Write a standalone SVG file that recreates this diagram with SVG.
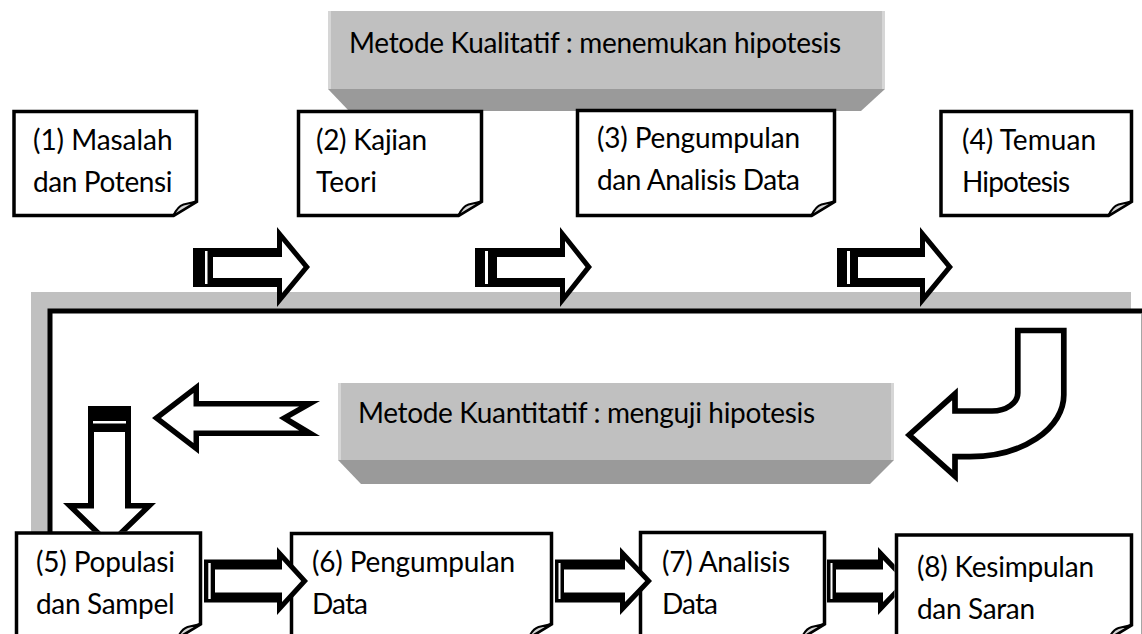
<svg xmlns="http://www.w3.org/2000/svg" width="1142" height="634" viewBox="0 0 1142 634">
<defs>
<style>
.t{font-family:Lato,"Liberation Sans",sans-serif;font-size:28px;fill:#000}
.box{fill:#fff;stroke:#000;stroke-width:3.5;stroke-linejoin:miter}
.curl{fill:#d4d4d4;stroke:#000;stroke-width:2;stroke-linejoin:round}
.face{fill:#c0c0c0}
.bevel{fill:#9a9a9a}
.hl{fill:#d6d6d6}
.blk{fill:#000}
.wht{fill:#fff}
</style>
<clipPath id="clipDown"><rect x="0" y="0" width="1142" height="531.5"/></clipPath>
<clipPath id="clip78"><rect x="0" y="0" width="894.5" height="634"/></clipPath>
</defs>
<rect width="1142" height="634" fill="#fff"/>

<g id="frame">
<rect x="31" y="292" width="1100" height="360" fill="#c0c0c0"/>
<rect x="50" y="311" width="1100" height="340" fill="#fff" stroke="#000" stroke-width="5"/>
<line x1="1141.5" y1="314" x2="1141.5" y2="634" stroke="#a6a6a6" stroke-width="1"/>
</g>

<g id="banner-top">
<rect class="face" x="328" y="11" width="557" height="78"/>
<rect class="hl" x="328" y="11" width="3" height="78"/>
<rect class="hl" x="882" y="11" width="3" height="78"/>
<polygon class="bevel" points="328,89 885,89 861,111 349,111"/>
<text class="t" x="349" y="53" textLength="492">Metode Kualitatif : menemukan hipotesis</text>
</g>

<g id="box1">
<path class="box" d="M14,111.5 H196.5 V201.5 L173.5,215.5 H14 Z"/>
<path class="curl" d="M173.5,215.5 Q177.5,206.5 183.5,204.5 L196.5,201.5 Z"/>
<text class="t" x="33" y="150" textLength="139.5">(1) Masalah</text>
<text class="t" x="33" y="192" textLength="139.5">dan Potensi</text>
</g>

<g id="box2">
<path class="box" d="M298.5,111.5 H481.5 V201.5 L458.5,215.5 H298.5 Z"/>
<path class="curl" d="M458.5,215.5 Q462.5,206.5 468.5,204.5 L481.5,201.5 Z"/>
<text class="t" x="316" y="150" textLength="111">(2) Kajian</text>
<text class="t" x="316" y="192" textLength="61">Teori</text>
</g>

<g id="box3">
<path class="box" d="M577.5,110.5 H834.5 V201.5 L811.5,215.5 H577.5 Z"/>
<path class="curl" d="M811.5,215.5 Q815.5,206.5 821.5,204.5 L834.5,201.5 Z"/>
<text class="t" x="597" y="148" textLength="203">(3) Pengumpulan</text>
<text class="t" x="597" y="190" textLength="203">dan Analisis Data</text>
</g>

<g id="box4">
<path class="box" d="M941,111.5 H1131.5 V201.5 L1108.5,215.5 H941 Z"/>
<path class="curl" d="M1108.5,215.5 Q1112.5,206.5 1118.5,204.5 L1131.5,201.5 Z"/>
<text class="t" x="962" y="150" textLength="134">(4) Temuan</text>
<text class="t" x="962" y="192" textLength="108">Hipotesis</text>
</g>

<g id="banner-bottom">
<rect class="face" x="338" y="383" width="556" height="77"/>
<rect class="hl" x="338" y="383" width="3" height="77"/>
<rect class="hl" x="891" y="383" width="3" height="77"/>
<polygon class="bevel" points="338,460 894,460 870,484 361,484"/>
<text class="t" x="358" y="423" textLength="457">Metode Kuantitatif : menguji hipotesis</text>
</g>

<g id="box5">
<path class="box" d="M16.5,533 H200.5 V624 L177.5,638 H16.5 Z"/>
<path class="curl" d="M177.5,638 Q181.5,629 187.5,627 L200.5,624 Z"/>
<text class="t" x="36" y="572" textLength="139">(5) Populasi</text>
<text class="t" x="36" y="614" textLength="138.5">dan Sampel</text>
</g>

<g id="box6">
<path class="box" d="M291.5,533.5 H551.5 V624 L528.5,638 H291.5 Z"/>
<path class="curl" d="M528.5,638 Q532.5,629 538.5,627 L551.5,624 Z"/>
<text class="t" x="312" y="572" textLength="203">(6) Pengumpulan</text>
<text class="t" x="312" y="614" textLength="56">Data</text>
</g>

<g id="box7">
<path class="box" d="M640.5,532.5 H824.5 V624 L801.5,638 H640.5 Z"/>
<path class="curl" d="M801.5,638 Q805.5,629 811.5,627 L824.5,624 Z"/>
<text class="t" x="662" y="572" textLength="128">(7) Analisis</text>
<text class="t" x="662" y="614" textLength="56">Data</text>
</g>

<g id="box8">
<path class="box" d="M896.5,535 H1131.5 V625 L1108.5,639 H896.5 Z"/>
<path class="curl" d="M1108.5,639 Q1112.5,630 1118.5,628 L1131.5,625 Z"/>
<text class="t" x="917" y="577" textLength="177">(8) Kesimpulan</text>
<text class="t" x="917" y="619" textLength="118">dan Saran</text>
</g>

<g id="connectors">
<g id="arrow-1-2">
<rect class="blk" x="193" y="248" width="20" height="39"/>
<rect class="wht" x="205" y="251" width="2.5" height="33"/>
<polygon class="blk" points="213,248 277,248 277,227 310,267 277,307 277,287 213,287"/>
<polygon class="wht" points="213,257 282,257 282,241 303.5,267 282,293 282,278 213,278"/>
</g>
<g id="arrow-2-3">
<rect class="blk" x="475" y="248" width="22" height="39"/>
<rect class="wht" x="485" y="251" width="3" height="33"/>
<polygon class="blk" points="497,248 560,248 560,227 592,267 560,307 560,287 497,287"/>
<polygon class="wht" points="497,257 565,257 565,241 585.5,267 565,293 565,278 497,278"/>
</g>
<g id="arrow-3-4">
<rect class="blk" x="837" y="248" width="21" height="39"/>
<rect class="wht" x="847" y="251" width="3" height="33"/>
<polygon class="blk" points="858,248 920,248 920,227 953,267 920,307 920,287 858,287"/>
<polygon class="wht" points="858,257 925,257 925,241 946.5,267 925,293 925,278 858,278"/>
</g>
<g id="arrow-4-q">
<path d="M1017.8,330.5 H1063.8 V395 A93.8,61.7 0 0 1 970,456.7 H955 V476.2 L909.2,435 L955,393.8 V411 H992 A25.8,18 0 0 0 1017.8,393 Z" fill="#fff" stroke="#000" stroke-width="5.7" stroke-linejoin="miter"/>
</g>
<g id="arrow-q-left">
<polygon class="blk" points="152,418 199,382 199,401 320,401 290,418 320,436 199,436 199,454"/>
<polygon class="wht" points="161,418 193.5,393.1 193.5,406.5 299.1,406.5 278.8,418 299.1,430.5 193.5,430.5 193.5,442.9"/>
</g>
<g id="arrow-down-5" clip-path="url(#clipDown)">
<rect class="blk" x="88" y="406" width="43" height="26"/>
<rect class="wht" x="93" y="421" width="33" height="2.5"/>
<polygon class="blk" points="88,432 88,503 63,503 109.5,548 156,503 131,503 131,432"/>
<polygon class="wht" points="94,432 94,508.5 76.6,508.5 109.5,540.3 142.4,508.5 125,508.5 125,432"/>
</g>
<g id="arrow-5-6">
<rect class="blk" x="204" y="559.5" width="11" height="43"/>
<rect class="wht" x="208.3" y="563" width="2.4" height="36"/>
<polygon class="blk" points="215,559.5 277,559.5 277,547 308,581 277,615 277,602.5 215,602.5"/>
<polygon class="wht" points="215,569.5 282,569.5 282,559.9 301.2,581 282,602.1 282,592.5 215,592.5"/>
</g>
<g id="arrow-6-7">
<rect class="blk" x="555" y="559.5" width="9" height="43"/>
<rect class="wht" x="558.5" y="563" width="2" height="36"/>
<polygon class="blk" points="564,559.5 620,559.5 620,547 652,581 620,615 620,602.5 564,602.5"/>
<polygon class="wht" points="564,569.5 625,569.5 625,559.9 645.2,581 625,602.1 625,592.5 564,592.5"/>
</g>
<g id="arrow-7-8" clip-path="url(#clip78)">
<rect class="blk" x="827" y="559.5" width="9" height="43"/>
<rect class="wht" x="830.5" y="563" width="2" height="36"/>
<polygon class="blk" points="836,559.5 878,559.5 878,547 910,581 878,615 878,602.5 836,602.5"/>
<polygon class="wht" points="836,569.5 883,569.5 883,559.9 903.2,581 883,602.1 883,592.5 836,592.5"/>
</g>
</g>
</svg>
